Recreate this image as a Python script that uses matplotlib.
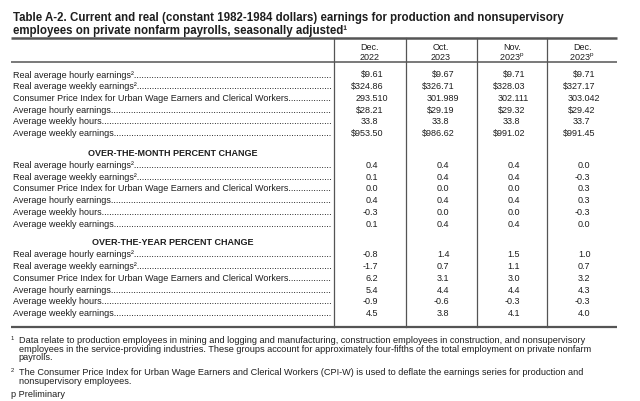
import matplotlib
matplotlib.use("Agg")
import matplotlib.pyplot as plt

plt.rcParams['font.family'] = ['Liberation Sans', 'DejaVu Sans']
plt.rcParams['mathtext.fontset'] = 'custom'
plt.rcParams['mathtext.rm'] = 'Liberation Sans'
plt.rcParams['mathtext.it'] = 'Liberation Sans'
plt.rcParams['mathtext.bf'] = 'Liberation Sans:bold'

# ---------------- data ----------------
title_lines = ["Table A-2. Current and real (constant 1982-1984 dollars) earnings for production and nonsupervisory",
               "employees on private nonfarm payrolls, seasonally adjusted¹"]
col_month = ["Dec.", "Oct.", "Nov.", "Dec."]
col_year = ["2022", "2023", r"2023$^{p}$", r"2023$^{p}$"]
row_labels = ["Real average hourly earnings²",
              "Real average weekly earnings²",
              "Consumer Price Index for Urban Wage Earners and Clerical Workers",
              "Average hourly earnings",
              "Average weekly hours",
              "Average weekly earnings"]
level_formats = ["${:.2f}", "${:.2f}", "{:.3f}", "${:.2f}", "{:.1f}", "${:.2f}"]
level_dec2022 = [9.61, 324.86, 293.510, 28.21, 33.8, 953.50]
level_oct2023 = [9.67, 326.71, 301.989, 29.19, 33.8, 986.62]
level_nov2023 = [9.71, 328.03, 302.111, 29.32, 33.8, 991.02]
level_dec2023 = [9.71, 327.17, 303.042, 29.42, 33.7, 991.45]
month_dec2022 = [0.4, 0.1, 0.0, 0.4, -0.3, 0.1]
month_oct2023 = [0.4, 0.4, 0.0, 0.4, 0.0, 0.4]
month_nov2023 = [0.4, 0.4, 0.0, 0.4, 0.0, 0.4]
month_dec2023 = [0.0, -0.3, 0.3, 0.3, -0.3, 0.0]
year_dec2022 = [-0.8, -1.7, 6.2, 5.4, -0.9, 4.5]
year_oct2023 = [1.4, 0.7, 3.1, 4.4, -0.6, 3.8]
year_nov2023 = [1.5, 1.1, 3.0, 4.4, -0.3, 4.1]
year_dec2023 = [1.0, 0.7, 3.2, 4.3, -0.3, 4.0]
section_titles = ["OVER-THE-MONTH PERCENT CHANGE", "OVER-THE-YEAR PERCENT CHANGE"]
footnote1 = ["Data relate to production employees in mining and logging and manufacturing, construction employees in construction, and nonsupervisory",
             "employees in the service-providing industries. These groups account for approximately four-fifths of the total employment on private nonfarm",
             "payrolls."]
footnote2 = ["The Consumer Price Index for Urban Wage Earners and Clerical Workers (CPI-W) is used to deflate the earnings series for production and",
             "nonsupervisory employees."]
footnote_p = "p Preliminary"

# ---------------- layout ----------------
W, H = 640, 402
fig = plt.figure(figsize=(W / 100, H / 100), dpi=100)
ax = fig.add_axes([0, 0, 1, 1])
ax.set_xlim(0, W)
ax.set_ylim(H, 0)
ax.axis('off')

TXT = '#1e1e1e'
LINE = '#555555'
fs_title = 8.3
fs_body = 6.5
fs_foot = 6.55

x_left = 11
x_label = 13
seps = [334, 405.5, 476.5, 547]
x_right = 617
centers = [(seps[i] + (seps[i + 1] if i < 3 else x_right)) / 2 for i in range(4)]
y_top_rule = 38.5
y_head_rule = 63
y_bottom_rule = 327.5

# title
ax.text(x_label, 20.5, title_lines[0], fontsize=fs_title, fontweight='bold', color=TXT, va='baseline', ha='left')
ax.text(x_label, 34.3, title_lines[1], fontsize=fs_title, fontweight='bold', color=TXT, va='baseline', ha='left')

# rules
ax.plot([x_left, x_right], [y_top_rule, y_top_rule], color=LINE, lw=1.8, solid_capstyle='butt')
ax.plot([x_left, x_right], [y_head_rule, y_head_rule], color=LINE, lw=1.1, solid_capstyle='butt')
ax.plot([x_left, x_right], [y_bottom_rule, y_bottom_rule], color=LINE, lw=1.6, solid_capstyle='butt')
for s in seps:
    ax.plot([s, s], [y_top_rule, y_bottom_rule], color=LINE, lw=0.9)

# headers
for i in range(4):
    ax.text(centers[i], 50, col_month[i], fontsize=fs_body, color=TXT, ha='center', va='baseline')
    ax.text(centers[i], 60, col_year[i], fontsize=fs_body, color=TXT, ha='center', va='baseline')

fig.canvas.draw()
renderer = fig.canvas.get_renderer()
inv = ax.transData.inverted()


def text_width(s, **kw):
    t = ax.text(0, 0, s, fontsize=fs_body, **kw)
    bb = t.get_window_extent(renderer=renderer)
    t.remove()
    p0 = inv.transform((bb.x0, bb.y0))
    p1 = inv.transform((bb.x1, bb.y0))
    return p1[0] - p0[0]


x_dots_end = 332


def draw_label(yb, label):
    n = 0
    while text_width(label + '.' * (n + 1)) + x_label <= x_dots_end:
        n += 1
    ax.text(x_label, yb, label + '.' * n, fontsize=fs_body, color=TXT, ha='left', va='baseline')


def draw_value(xc, yb, s):
    xd = xc + 1
    if '.' in s:
        a = s.split('.')[0]
        w = text_width(a + '.') - text_width('.')
        ax.text(xd - w, yb, s, fontsize=fs_body, color=TXT, ha='left', va='baseline')
    else:
        ax.text(xd, yb, s, fontsize=fs_body, color=TXT, ha='right', va='baseline')


row_step = 11.75
levels = [level_dec2022, level_oct2023, level_nov2023, level_dec2023]
months = [month_dec2022, month_oct2023, month_nov2023, month_dec2023]
years = [year_dec2022, year_oct2023, year_nov2023, year_dec2023]
BL = 3.0  # baseline offset from visual row centre

# block 1: levels
y0 = 74.5
for r, lab in enumerate(row_labels):
    yb = y0 + r * row_step + BL
    draw_label(yb, lab)
    for c in range(4):
        draw_value(centers[c], yb, level_formats[r].format(levels[c][r]))

# block 2 & 3: percent changes
for sec_y, sec_title, data in [(153, section_titles[0], months), (242.5, section_titles[1], years)]:
    ax.text((x_left + seps[0]) / 2, sec_y + BL, sec_title, fontsize=fs_body, fontweight='bold',
            color=TXT, ha='center', va='baseline')
    for r, lab in enumerate(row_labels):
        yb = sec_y + 11.8 + r * row_step + BL
        draw_label(yb, lab)
        for c in range(4):
            draw_value(centers[c], yb, "{:.1f}".format(data[c][r]))

# footnotes
x_fn = 18.6
fn_step = 8.6
ax.text(x_left, 340, '1', fontsize=4.2, color=TXT, ha='left', va='baseline')
for i, line in enumerate(footnote1):
    ax.text(x_fn, 343 + i * fn_step, line, fontsize=fs_foot, color=TXT, ha='left', va='baseline')
ax.text(x_left, 372.5, '2', fontsize=4.2, color=TXT, ha='left', va='baseline')
for i, line in enumerate(footnote2):
    ax.text(x_fn, 375.5 + i * fn_step, line, fontsize=fs_foot, color=TXT, ha='left', va='baseline')
ax.text(x_left, 397.5, footnote_p, fontsize=fs_foot, color=TXT, ha='left', va='baseline')

fig.savefig('out.png', dpi=100, facecolor='white')
